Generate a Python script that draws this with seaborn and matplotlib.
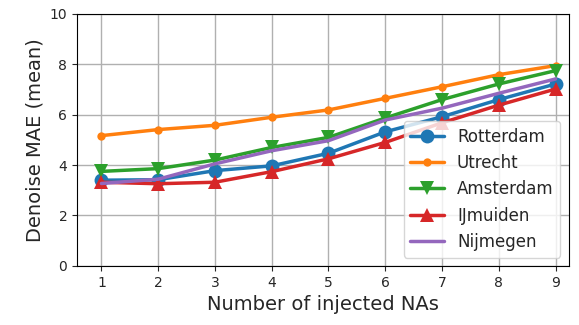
import pandas as pd
import matplotlib
matplotlib.use("Agg")
import matplotlib.pyplot as plt
import seaborn as sns

n_nas = [1, 2, 3, 4, 5, 6, 7, 8, 9]
rotterdam = [3.40, 3.42, 3.78, 3.97, 4.47, 5.32, 5.92, 6.60, 7.22]
utrecht = [5.17, 5.41, 5.58, 5.90, 6.19, 6.65, 7.11, 7.59, 7.95]
amsterdam = [3.75, 3.86, 4.20, 4.70, 5.10, 5.87, 6.60, 7.22, 7.75]
ijmuiden = [3.32, 3.26, 3.32, 3.74, 4.25, 4.90, 5.68, 6.38, 7.02]
nijmegen = [3.27, 3.44, 4.05, 4.57, 4.97, 5.79, 6.26, 6.85, 7.42]

df = pd.DataFrame({"n": n_nas, "Rotterdam": rotterdam, "Utrecht": utrecht,
                   "Amsterdam": amsterdam, "IJmuiden": ijmuiden,
                   "Nijmegen": nijmegen})
df = df.melt(id_vars="n", var_name="city", value_name="mae")

sns.set_style("ticks")
plt.rcParams['font.family'] = ['DejaVu Sans']

fig, ax = plt.subplots(figsize=(5.79, 3.25), dpi=100)
styles = {"Rotterdam": ("o", 10), "Utrecht": ("o", 6), "Amsterdam": ("v", 10),
          "IJmuiden": ("^", 10), "Nijmegen": (None, 0)}
palette = sns.color_palette("tab10")
for i, city in enumerate(styles):
    marker, ms = styles[city]
    sns.lineplot(data=df[df["city"] == city], x="n", y="mae", ax=ax,
                 color=palette[i], marker=marker, markersize=ms,
                 markeredgewidth=0, linewidth=2.5, label=city)

ax.set_ylim(0, 10)
ax.set_xlim(0.57, 9.23)
ax.set_xticks(n_nas)
ax.set_yticks(range(0, 11, 2))
ax.grid(True, color="#b0b0b0", linewidth=1)
ax.set_xlabel("Number of injected NAs", fontsize=14)
ax.set_ylabel("Denoise MAE (mean)", fontsize=14)
ax.tick_params(labelsize=10)
for s in ax.spines.values():
    s.set_color("black")
ax.legend(loc="lower right", fontsize=12, handlelength=2, framealpha=0.8)

fig.subplots_adjust(left=0.133, right=0.982, top=0.957, bottom=0.182)
fig.savefig("out.png", dpi=100)
